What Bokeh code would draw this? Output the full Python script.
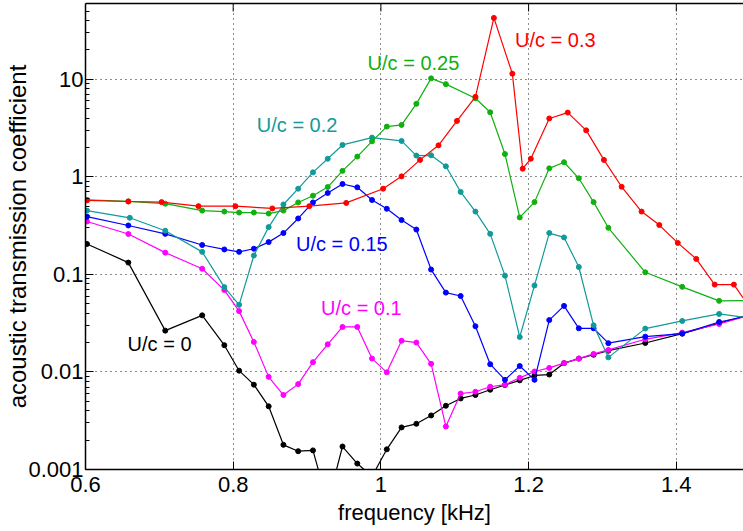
import math
from bokeh.plotting import figure
from bokeh.models import (FixedTicker, LinearAxis, CustomJSTickFormatter, Label, Range1d)
from bokeh.embed import file_html
from bokeh.resources import INLINE

# ---------------- data ----------------
f_common = [0.602, 0.658, 0.708, 0.758, 0.788, 0.808, 0.828, 0.848, 0.868, 0.888,
            0.908, 0.928, 0.948, 0.968, 0.988, 1.008, 1.028, 1.048, 1.068, 1.088,
            1.108, 1.128, 1.148, 1.168, 1.188, 1.208, 1.228, 1.248, 1.268, 1.288,
            1.308, 1.358, 1.408, 1.458, 1.508]

t_u0 = [0.205, 0.132, 0.0265, 0.038, 0.0188, 0.0103, 0.0074, 0.00444, 0.00179, 0.00154,
        0.00157, 0.00045, 0.00172, 0.00115, 0.00085, 0.00161, 0.0027, 0.00294, 0.00358, 0.0045,
        0.00535, 0.0058, 0.00657, 0.00734, 0.0082, 0.0092, 0.0094, 0.0123, 0.0137, 0.015,
        0.0165, 0.0198, 0.0247, 0.0316, 0.040]

t_u01 = [0.348, 0.259, 0.167, 0.114, 0.069, 0.042, 0.0203, 0.0089, 0.0058, 0.0075,
         0.0126, 0.0192, 0.0289, 0.0289, 0.0137, 0.0099, 0.0209, 0.020, 0.0121, 0.00276,
         0.0060, 0.00626, 0.00705, 0.0074, 0.0087, 0.0101, 0.011, 0.0123, 0.0137, 0.0153,
         0.0168, 0.0216, 0.0253, 0.031, 0.040]

t_u015 = [0.39, 0.317, 0.26, 0.20, 0.18, 0.17, 0.183, 0.214, 0.265, 0.374,
          0.546, 0.682, 0.844, 0.78, 0.578, 0.47, 0.36, 0.288, 0.112, 0.065,
          0.060, 0.0294, 0.012, 0.0083, 0.0115, 0.0083, 0.034, 0.0475, 0.028, 0.028,
          0.0197, 0.023, 0.0247, 0.0325, 0.039]

f_u02 = [0.602, 0.660, 0.708, 0.758, 0.788, 0.808, 0.828, 0.848, 0.868, 0.888,
         0.908, 0.928, 0.948, 0.988, 1.028, 1.048, 1.068, 1.088, 1.108, 1.128,
         1.148, 1.168, 1.188, 1.208, 1.228, 1.248, 1.268, 1.288, 1.308, 1.358,
         1.408, 1.458, 1.508]
t_u02 = [0.45, 0.38, 0.28, 0.17, 0.074, 0.0487, 0.156, 0.305, 0.52, 0.755,
         1.11, 1.53, 2.12, 2.52, 2.33, 1.65, 1.66, 1.28, 0.70, 0.44,
         0.26, 0.097, 0.0228, 0.077, 0.265, 0.239, 0.119, 0.030, 0.0141, 0.0278,
         0.0333, 0.0393, 0.035]

f_u025 = [0.602, 0.658, 0.708, 0.758, 0.788, 0.808, 0.828, 0.848, 0.868, 0.888,
          0.908, 0.928, 0.948, 0.968, 0.988, 1.008, 1.028, 1.048, 1.068, 1.088,
          1.128, 1.148, 1.168, 1.188, 1.208, 1.228, 1.248, 1.268, 1.288, 1.308,
          1.358, 1.408, 1.458, 1.508]
t_u025 = [0.58, 0.56, 0.53, 0.45, 0.44, 0.43, 0.43, 0.42, 0.45, 0.546,
          0.64, 0.785, 1.15, 1.61, 2.31, 3.27, 3.4, 5.59, 10.2, 8.9,
          6.38, 4.58, 1.71, 0.383, 0.55, 1.22, 1.41, 0.965, 0.55, 0.30,
          0.105, 0.0745, 0.0535, 0.054]

f_u03 = [0.602, 0.658, 0.703, 0.753, 0.803, 0.853, 0.903, 0.953, 1.003, 1.028,
         1.053, 1.078, 1.103, 1.128, 1.153, 1.178, 1.192, 1.203, 1.228, 1.253,
         1.278, 1.302, 1.326, 1.353, 1.377, 1.402, 1.427, 1.452, 1.478, 1.503]
t_u03 = [0.573, 0.558, 0.55, 0.50, 0.50, 0.474, 0.50, 0.54, 0.755, 1.01,
         1.49, 2.1, 3.74, 6.6, 42.5, 11.4, 1.21, 1.53, 3.96, 4.55,
         2.99, 1.49, 0.79, 0.44, 0.32, 0.21, 0.144, 0.0785, 0.0785, 0.042]

series_names = ["U/c = 0", "U/c = 0.1", "U/c = 0.15", "U/c = 0.2", "U/c = 0.25", "U/c = 0.3"]
x_ticks = [0.6, 0.8, 1.0, 1.2, 1.4]
y_ticks = [0.001, 0.01, 0.1, 1, 10]

# ---------------- styling ----------------
FONT = "Liberation Sans"
colors = ["#000000", "#ff00ff", "#0000ff", "#129a9a", "#10b010", "#ff0000"]
series = [(f_common, t_u0), (f_common, t_u01), (f_common, t_u015),
          (f_u02, t_u02), (f_u025, t_u025), (f_u03, t_u03)]
# label anchor (left, vertical middle) in data coordinates
label_pos = [(0.657, 0.0194), (0.919, 0.0452), (0.885, 0.204),
             (0.832, 3.38), (0.982, 14.5), (1.1816, 25.1)]

X0, X1 = 0.6, 1.491
Y0, Y1 = 0.001, 59.7

p = figure(width=743, height=531, y_axis_type="log",
           x_range=Range1d(X0, X1), y_range=Range1d(Y0, Y1),
           output_backend="svg", toolbar_location=None,
           min_border_left=85, min_border_right=0, min_border_top=3, min_border_bottom=62)
p.outline_line_color = None
p.background_fill_color = "white"
p.border_fill_color = "white"

minor = [m * 10.0 ** k for k in range(-3, 2) for m in range(2, 10)]
xt = FixedTicker(ticks=x_ticks, minor_ticks=[])
yt = FixedTicker(ticks=y_ticks, minor_ticks=minor)

xa = p.xaxis[0]
xa.ticker = xt
xa.formatter = CustomJSTickFormatter(code="return String(Math.round(tick*10)/10);")
ya = p.yaxis[0]
ya.ticker = yt
ya.formatter = CustomJSTickFormatter(code="return String(parseFloat(tick.toPrecision(6)));")

for ax in (xa, ya):
    ax.major_tick_in = 8
    ax.major_tick_out = 0
    ax.minor_tick_in = 4
    ax.minor_tick_out = 0
    ax.axis_line_width = 1.5
    ax.major_label_text_font = FONT
    ax.major_label_text_font_size = "22px"
    ax.major_label_text_color = "black"
    ax.axis_label_text_font = FONT
    ax.axis_label_text_font_style = "normal"
    ax.axis_label_text_color = "black"

xa.axis_label = "frequency [kHz]"
xa.axis_label_text_font_size = "22px"
xa.major_label_standoff = 7
xa.axis_label_standoff = 5
ya.axis_label = "acoustic transmission coefficient"
ya.axis_label_text_font_size = "24px"
ya.major_label_standoff = 2
ya.axis_label_standoff = -6

# top frame line (no labels, no ticks from the axis itself)
top = LinearAxis(ticker=FixedTicker(ticks=[], minor_ticks=[]), axis_line_width=1.5,
                 major_tick_out=0, major_tick_in=0, minor_tick_in=0, minor_tick_out=0)
p.add_layout(top, "above")
# inward tick marks along the top edge (half of each dash is clipped by the frame)
p.scatter(x_ticks, [Y1] * len(x_ticks), marker="dash", size=16, angle=math.pi / 2,
          line_color="black", line_width=1)

p.xgrid.ticker = xt
p.ygrid.ticker = yt
for g in (p.xgrid, p.ygrid):
    g.grid_line_color = "black"
    g.grid_line_dash = "1 4"
    g.grid_line_width = 1
    g.grid_line_alpha = 0.9

for (fx, ty), c in zip(series, colors):
    p.line(fx, ty, line_color=c, line_width=1.2)
    p.scatter(fx, ty, size=5, fill_color=c, line_color=c)

for name, (lx, ly), c in zip(series_names, label_pos, colors):
    p.add_layout(Label(x=lx, y=ly, text=name, text_color=c, text_font=FONT,
                       text_font_size="20px", text_baseline="middle", text_align="left"))

open("out.html", "w").write(file_html(p, INLINE))
